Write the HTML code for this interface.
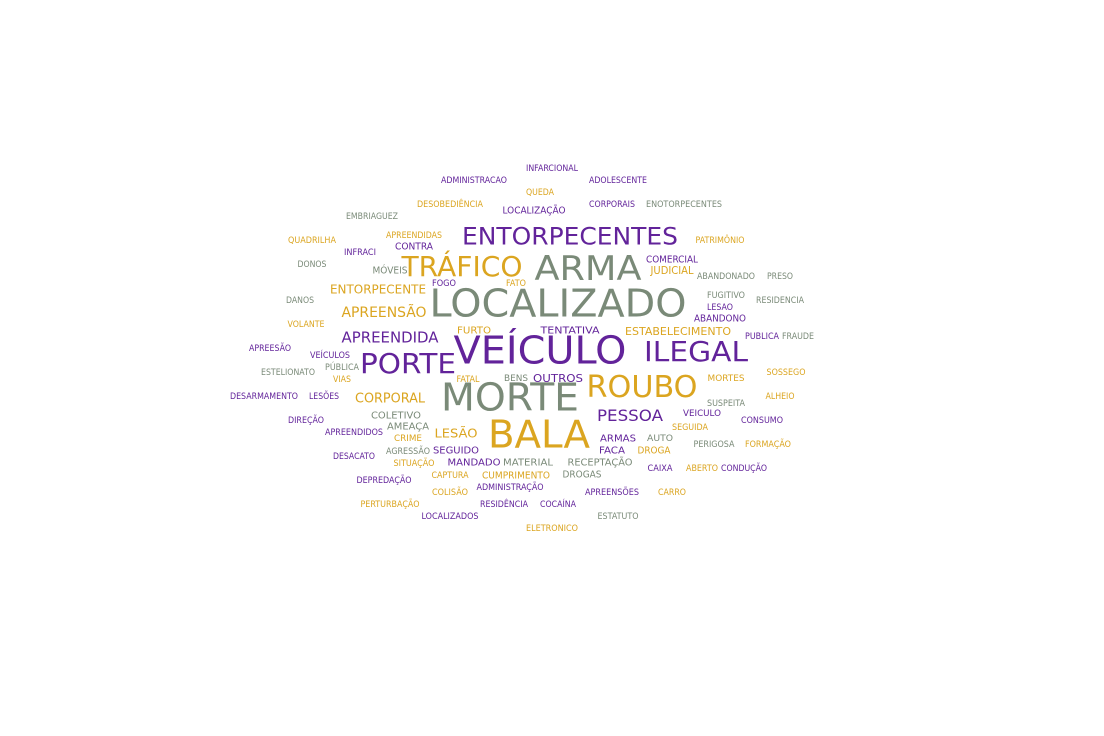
<!DOCTYPE html>
<html><head><meta charset="utf-8">
<style>
html,body{margin:0;padding:0;background:#fff;}
svg{display:block;}
text{font-family:"DejaVu Sans","Liberation Sans",sans-serif;}
</style></head>
<body>
<svg id="cloud" width="1104" height="736" viewBox="0 0 1104 736" xmlns="http://www.w3.org/2000/svg">
<rect width="1104" height="736" fill="#fff"/>
</svg>
<script>
const COLORS = {p:"#62239a", g:"#dba520", s:"#7a8a78"};
const words = ["INFARCIONAL","ADMINISTRACAO","ADOLESCENTE","QUEDA","DESOBEDIÊNCIA","LOCALIZAÇÃO","CORPORAIS","ENOTORPECENTES","EMBRIAGUEZ","ENTORPECENTES","PATRIMÔNIO","QUADRILHA","APREENDIDAS","CONTRA","INFRACI","TRÁFICO","ARMA","COMERCIAL","JUDICIAL","ABANDONADO","PRESO","DONOS","MÓVEIS","FOGO","FATO","ENTORPECENTE","LOCALIZADO","FUGITIVO","RESIDENCIA","LESAO","ABANDONO","DANOS","APREENSÃO","VOLANTE","FURTO","TENTATIVA","ESTABELECIMENTO","PUBLICA","FRAUDE","APREENDIDA","APREESÃO","VEÍCULO","ILEGAL","VEÍCULOS","PORTE","PÚBLICA","ESTELIONATO","SOSSEGO","VIAS","FATAL","BENS","OUTROS","ROUBO","MORTES","MORTE","DESARMAMENTO","LESÕES","CORPORAL","ALHEIO","SUSPEITA","COLETIVO","PESSOA","VEICULO","CONSUMO","DIREÇÃO","AMEAÇA","SEGUIDA","APREENDIDOS","LESÃO","BALA","CRIME","ARMAS","AUTO","PERIGOSA","FORMAÇÃO","AGRESSÃO","SEGUIDO","FACA","DROGA","DESACATO","SITUAÇÃO","MANDADO","MATERIAL","RECEPTAÇÃO","CAIXA","ABERTO","CONDUÇÃO","CAPTURA","CUMPRIMENTO","DROGAS","DEPREDAÇÃO","ADMINISTRAÇÃO","COLISÃO","APREENSÕES","CARRO","PERTURBAÇÃO","RESIDÊNCIA","COCAÍNA","LOCALIZADOS","ESTATUTO","ELETRONICO"];
const cx = [552,474,618,540,450,534,612,684,372,570,720,312,414,414,360,462,588,672,672,726,780,312,390,444,516,378,558,726,780,720,720,300,384,306,474,570,678,762,798,390,270,540,696,330,408,342,288,786,342,468,516,558,642,726,510,264,324,390,780,726,396,630,702,762,306,408,690,354,456,539,408,618,660,714,768,408,456,612,654,354,414,474,528,600,660,702,744,450,516,582,384,510,450,612,672,390,504,558,450,618,552];
const cy = [168,180,180,192,204,210,204,204,216,236,240,240,235,246,252,266,268,259,270,276,276,264,270,283,283,289,303,295,300,307,318,300,312,324,330,330,331,336,336,337,348,350,351,355,363,367,372,372,379,379,378,378,386,378,397,396,396,398,396,403,415,415,413,420,420,426,427,432,433,434,438,438,438,444,444,451,450,450,450,456,463,462,462,462,468,468,468,475,475,474,480,487,492,492,492,504,504,504,516,516,528];
const widths = [52,66,58,28,66,63,46,76,52,216,49,48,56,38,32,121,107,52,43,58,26,29,35,24,20,96,257,38,48,26,52,28,85,37,34,59,106,34,32,97,42,173,104,40,96,34,54,39,18,23,24,50,111,37,138,68,30,70,29,38,50,66,38,42,36,42,36,58,43,102,28,36,26,41,46,44,46,26,33,42,41,53,50,65,25,32,46,37,68,39,55,67,36,54,28,59,48,36,57,41,52];
const sizes = [8.5,8.5,8.5,8.5,8.5,9.5,8.5,8.5,8.5,24,8.5,8.5,8.5,9.5,8.5,28,34,9.5,10.5,8.5,8.5,8.5,9.5,8.5,8.5,12,38,8.5,8.5,8.5,9.5,8.5,14,8.5,10,10,11,8.5,8.5,15,8.5,38,28,8.5,28,8.5,8.5,8.5,8.5,8.5,8.5,11,30,8.5,38,8.5,8.5,13,8.5,8.5,10,16,9,8.5,8.5,10,8.5,8.5,12,38,8.5,10,8.5,8.5,8.5,8.5,10,10,9.5,8.5,8.5,10,10,10,8.5,8.5,8.5,8.5,9.5,9.5,8.5,8.5,8.5,8.5,8.5,8.5,8.5,8.5,8.5,8.5,8.5];
const colors = ["p","p","p","g","g","p","p","s","s","p",
"g","g","g","p","p","g","s","p","g","s",
"s","s","s","p","g","g","s","s","s","p",
"p","s","g","g","g","p","g","p","s","p",
"p","p","p","p","p","s","s","g","g","g",
"s","p","g","g","s","p","p","g","g","s",
"s","p","p","p","p","s","g","p","g","g",
"g","p","s","s","g","s","p","p","g","p",
"g","p","s","s","p","g","p","g","g","s",
"p","p","g","p","g","g","p","p","p","s",
"g"];
const svg = document.getElementById('cloud');
for (let i = 0; i < words.length; i++) {
  const t = document.createElementNS('http://www.w3.org/2000/svg','text');
  t.setAttribute('x', cx[i]);
  t.setAttribute('y', cy[i] + sizes[i]*0.36);
  t.setAttribute('text-anchor','middle');
  t.setAttribute('font-size', sizes[i]);
  t.setAttribute('fill', COLORS[colors[i]]);
  t.setAttribute('textLength', widths[i]);
  t.setAttribute('lengthAdjust','spacingAndGlyphs');
  t.textContent = words[i];
  
  
  svg.appendChild(t);
}
</script>
</body></html>
